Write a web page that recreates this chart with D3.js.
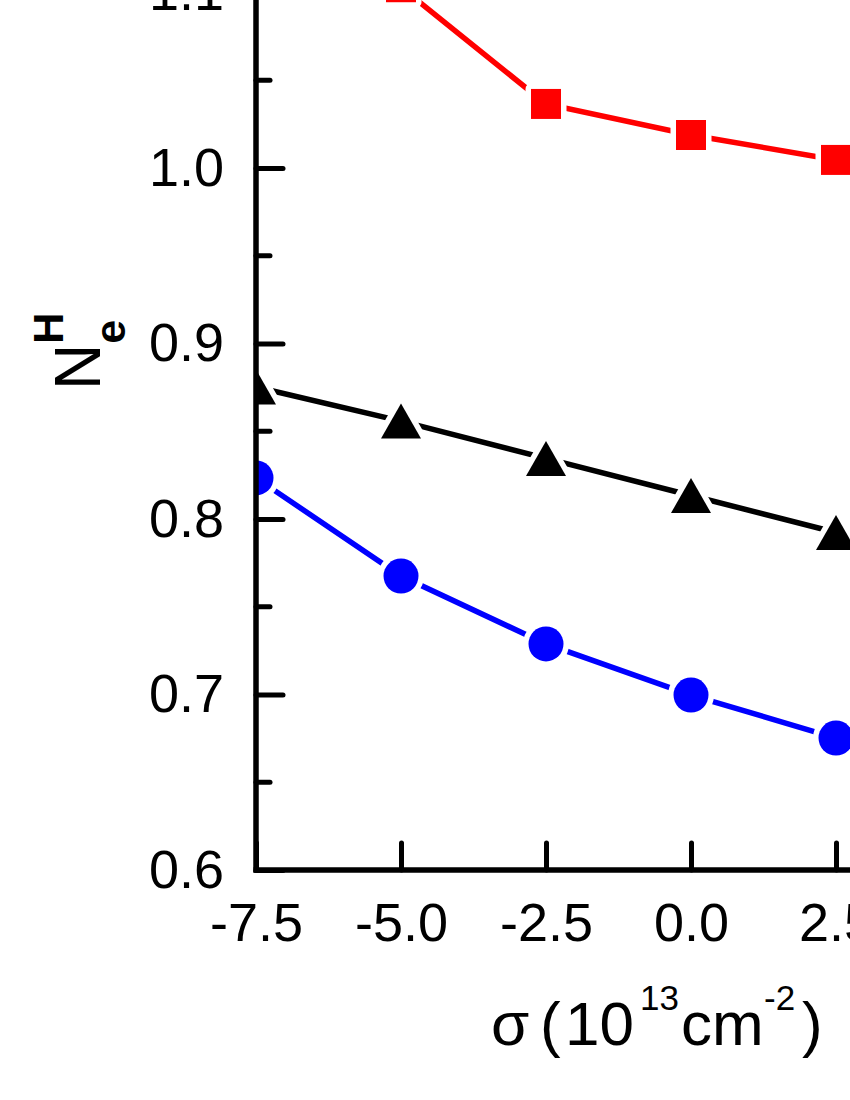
<!DOCTYPE html>
<html>
<head>
<meta charset="utf-8">
<script src="https://cdn.jsdelivr.net/npm/d3@7"></script>
<style>
  body { margin: 0; background: #fff; }
  svg { display: block; overflow: hidden; }
  text { font-family: "Liberation Sans", Arial, sans-serif; }
</style>
</head>
<body>
<div id="graph"></div>
<script>
width = 850;
height = 1100;

// sigma values (10^13 cm^-2)
var sigma = [-7.5, -5.0, -2.5, 0.0, 2.5];
// N_e^H for the three series (red -7.5 point lies above the visible area, estimated)
var redVals   = [1.19, 1.103, 1.0365, 1.0188, 1.0046];
var blackVals = [0.8752, 0.8558, 0.8345, 0.8134, 0.7923];
var blueVals  = [0.8234, 0.7675, 0.7288, 0.6997, 0.6752];

var xTicks = [-7.5, -5.0, -2.5, 0.0, 2.5, 5.0];
var yTicks = [0.6, 0.7, 0.8, 0.9, 1.0, 1.1, 1.2];
var yMinor = [0.65, 0.75, 0.85, 0.95, 1.05, 1.15];

var series = [
  {name: "red", color: "#ff0000", shape: "square", values: redVals},
  {name: "black", color: "#000000", shape: "triangle", values: blackVals},
  {name: "blue", color: "#0000ff", shape: "circle", values: blueVals}
];

x = d3.scaleLinear().domain([-7.5, 2.5]).range([256, 836]);
y = d3.scaleLinear().domain([0.6, 1.0]).range([870, 168]);

function markerPath(shape) {
  if (shape == "square") return "M-15,-15H15V15H-15Z";
  if (shape == "triangle") return "M0,-17.5L20,17.5L-20,17.5Z";
  return d3.arc()({innerRadius: 0, outerRadius: 17.5, startAngle: 0, endAngle: 2 * Math.PI});
}

function chart() {
  const svg = d3.create("svg")
      .attr("width", width)
      .attr("height", height)
      .attr("viewBox", [0, 0, width, height]);

  svg.append("clipPath")
      .attr("id", "plotclip")
    .append("rect")
      .attr("x", 255)
      .attr("y", -1000)
      .attr("width", 2000)
      .attr("height", 1870);

  const plot = svg.append("g").attr("clip-path", "url(#plotclip)");

  const line = d3.line()
      .x(d => x(d[0]))
      .y(d => y(d[1]));

  series.forEach(s => {
    const pts = sigma.map((v, i) => [v, s.values[i]]);
    plot.append("path")
        .datum(pts)
        .attr("fill", "none")
        .attr("stroke", s.color)
        .attr("stroke-width", 5.5)
        .attr("stroke-linecap", "round")
        .attr("d", line);
  });

  series.forEach(s => {
    const pts = sigma.map((v, i) => [v, s.values[i]]);
    plot.append("g")
      .selectAll("path")
      .data(pts)
      .join("path")
        .attr("transform", d => `translate(${x(d[0])},${y(d[1])})`)
        .attr("d", markerPath(s.shape))
        .attr("fill", s.color)
        .attr("stroke", "#fff")
        .attr("stroke-width", 11)
        .attr("stroke-linejoin", "round")
        .attr("paint-order", "stroke");
  });

  // left axis
  const yAxis = d3.axisLeft(y)
      .tickValues(yTicks)
      .tickSize(-27)
      .tickPadding(32)
      .tickFormat(d3.format(".1f"));
  const gy = svg.append("g")
      .attr("transform", `translate(${x(-7.5)},0)`)
      .call(yAxis);
  gy.select(".domain").remove();
  gy.selectAll(".tick line").attr("stroke-width", 5).attr("stroke-linecap", "round");
  gy.selectAll(".tick text")
      .attr("font-size", 54)
      .attr("font-family", "Liberation Sans, Arial, sans-serif")
      .attr("fill", "#000");
  gy.append("g")
    .selectAll("line")
    .data(yMinor)
    .join("line")
      .attr("x1", 0).attr("x2", 14)
      .attr("y1", d => y(d)).attr("y2", d => y(d))
      .attr("stroke", "#000")
      .attr("stroke-width", 5)
      .attr("stroke-linecap", "round");
  gy.append("line")
      .attr("x1", 0).attr("x2", 0)
      .attr("y1", y(0.6) + 2.5).attr("y2", -100)
      .attr("stroke", "#000")
      .attr("stroke-width", 5.5);

  // bottom axis
  const xAxis = d3.axisBottom(x)
      .tickValues(xTicks)
      .tickSize(-27)
      .tickPadding(33)
      .tickFormat(d3.format(".1f"));
  const gx = svg.append("g")
      .attr("transform", `translate(0,${y(0.6)})`)
      .call(xAxis);
  gx.select(".domain").remove();
  gx.selectAll(".tick line").attr("stroke-width", 5).attr("stroke-linecap", "round");
  gx.selectAll(".tick text")
      .attr("font-size", 54)
      .attr("font-family", "Liberation Sans, Arial, sans-serif")
      .attr("fill", "#000")
      .text(d => d3.format(".1f")(d).replace("−", "-"));
  gx.append("line")
      .attr("x1", x(-7.5) - 2.5).attr("x2", 2000)
      .attr("y1", 0).attr("y2", 0)
      .attr("stroke", "#000")
      .attr("stroke-width", 5.5);
  gy.selectAll(".tick text").text(d => d3.format(".1f")(d));

  // x title
  const xt = svg.append("text")
      .attr("y", 1045)
      .attr("font-size", 62)
      .attr("fill", "#000");
  xt.append("tspan").attr("x", 491).text("σ");
  xt.append("tspan").attr("x", 540).text("(");
  xt.append("tspan").attr("x", 565).text("10");
  xt.append("tspan").attr("x", 640).attr("font-size", 35).attr("y", 1010).text("13");
  xt.append("tspan").attr("x", 681).attr("y", 1045).text("cm");
  xt.append("tspan").attr("x", 764).attr("font-size", 35).attr("y", 1010).text("-2");
  xt.append("tspan").attr("x", 802).attr("y", 1045).text(")");

  // y title
  const yt = svg.append("text")
      .attr("transform", "translate(100,390) rotate(-90)")
      .attr("font-size", 64)
      .attr("fill", "#000");
  yt.append("tspan").text("N");
  yt.append("tspan").attr("font-size", 43).attr("font-weight", "bold").attr("dy", -37).text("H");
  yt.append("tspan").attr("font-size", 43).attr("font-weight", "bold").attr("dx", -31).attr("dy", 62).text("e");

  d3.select("#graph").append(() => svg.node());
}

chart();
</script>
</body>
</html>
